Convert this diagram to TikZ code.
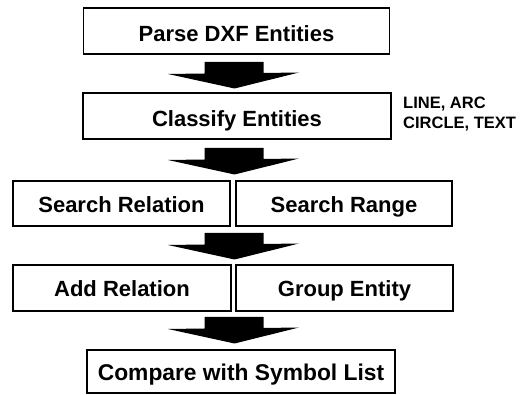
\documentclass[tikz,border=0pt]{standalone}
\usepackage{fontspec}
\setmainfont{Liberation Sans}
\begin{document}
\begin{tikzpicture}[x=1pt,y=-1pt,
  box/.style={draw=black,line width=1.2pt,rectangle,inner sep=0pt,align=center,
    text height=17.5pt,text depth=0pt,
    font=\fontsize{22}{26}\selectfont\bfseries},
  topbox/.style={box,text height=21.5pt},
  note/.style={inner sep=0pt,font=\fontsize{16.5}{20}\selectfont\bfseries},
  blockarrow/.pic={\fill[black] (-29.5,0) -- (29.5,0) -- (29.5,11) -- (65,10.5)
     -- (0.5,26.5) -- (-66,12) -- (-29.5,11.5) -- cycle;}]
\useasboundingbox (0,0) rectangle (531,395);
\node[topbox,minimum width=306pt,minimum height=46pt] (parse) at (236.5,31) {Parse DXF Entities};
\node[topbox,minimum width=308pt,minimum height=46pt] (classify) at (237,116) {Classify Entities};
\node[note,anchor=base west] (n1) at (403,109) {LINE, ARC};
\node[note,anchor=base west] (n2) at (403,129) {CIRCLE, TEXT};
\node[box,minimum width=217pt,minimum height=45pt] (srel) at (121.5,203.5) {Search Relation};
\node[box,minimum width=216pt,minimum height=45pt] (srange) at (344,203.5) {Search Range};
\node[box,minimum width=218pt,minimum height=46pt] (arel) at (122,288) {Add Relation};
\node[box,minimum width=217pt,minimum height=46pt] (group) at (344.5,288) {Group Entity};
\node[box,minimum width=308pt,minimum height=43pt,font=\fontsize{22.8}{26}\selectfont\bfseries] (compare) at (241,371.5) {Compare with Symbol List};
\pic at (234,62) {blockarrow};
\pic at (234,148) {blockarrow};
\pic at (234,233) {blockarrow};
\pic at (234,317) {blockarrow};
\end{tikzpicture}
\end{document}
